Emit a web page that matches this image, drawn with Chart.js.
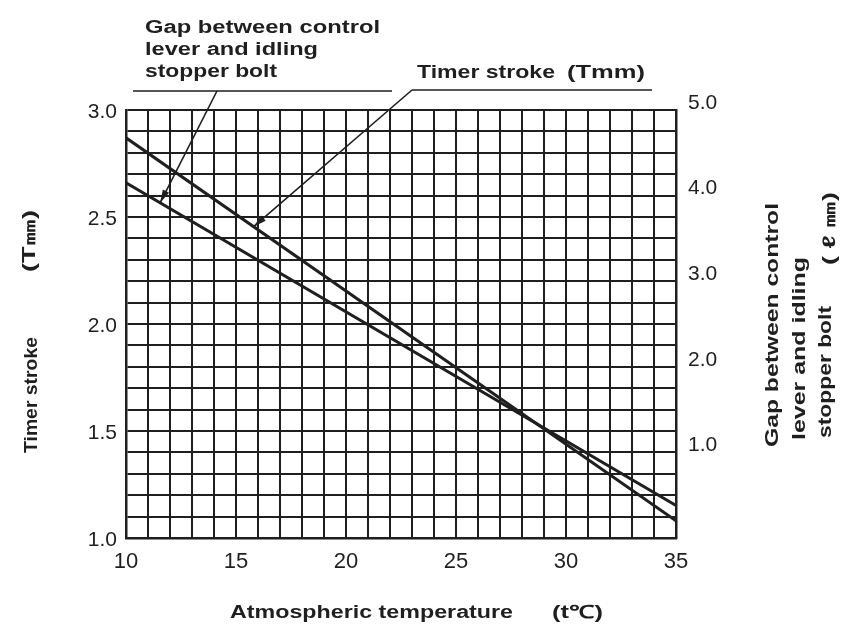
<!DOCTYPE html>
<html>
<head>
<meta charset="utf-8">
<title>Timer stroke vs atmospheric temperature</title>
<script src="https://cdn.jsdelivr.net/npm/chart.js@4.4.1/dist/chart.umd.min.js"></script>
<style>
  html, body { margin: 0; padding: 0; background: #fff; }
  #wrap { width: 845px; height: 631px; position: relative; }
</style>
</head>
<body>
<div id="wrap"><canvas id="chart"></canvas></div>
<script>
const TEMPS = [10, 35];                 // °C
const TIMER_STROKE = [2.87, 1.08];      // Tmm, left axis
const LEVER_GAP = [4.15, 0.38];         // ℓ mm, right axis
const X_LABELS = [10, 15, 20, 25, 30, 35];
const LEFT_LABELS = [1.0, 1.5, 2.0, 2.5, 3.0];
const RIGHT_LABELS = [1, 2, 3, 4, 5];
// temperatures where the leader arrows touch their lines
const TIMER_POINTER_T = 15.8;
const GAP_POINTER_T = 11.55;

const INK = '#1f1f1f';
const FONT = "'Liberation Sans', Arial, sans-serif";

Chart.defaults.font.family = FONT;
Chart.defaults.color = INK;

function lerpAt(xs, ys, x) {
  const t = (x - xs[0]) / (xs[1] - xs[0]);
  return ys[0] + t * (ys[1] - ys[0]);
}

function pick(list, v) {
  return list.find(t => Math.abs(t - v) < 1e-6);
}

// draw text from (x, y) stretched to a given width, optionally rotated
function stretchText(ctx, text, x, y, width, angle = 0) {
  ctx.save();
  ctx.translate(x, y);
  ctx.rotate(angle);
  ctx.scale(width / ctx.measureText(text).width, 1);
  ctx.textAlign = 'left';
  ctx.textBaseline = 'middle';
  ctx.fillText(text, 0, 0);
  ctx.restore();
}

function leader(ctx, from, to) {
  ctx.beginPath();
  ctx.moveTo(from.x, from.y);
  ctx.lineTo(to.x, to.y);
  ctx.stroke();
  const a = Math.atan2(to.y - from.y, to.x - from.x);
  const len = 13, half = 3.5;
  const bx = to.x - len * Math.cos(a), by = to.y - len * Math.sin(a);
  ctx.beginPath();
  ctx.moveTo(to.x, to.y);
  ctx.lineTo(bx + half * Math.sin(a), by - half * Math.cos(a));
  ctx.lineTo(bx - half * Math.sin(a), by + half * Math.cos(a));
  ctx.closePath();
  ctx.fill();
}

const labels = {
  id: 'labels',
  afterDraw(chart) {
    const { ctx } = chart;
    const sx = chart.scales.x, sy = chart.scales.y, sy2 = chart.scales.y2;
    ctx.save();
    ctx.strokeStyle = INK;
    ctx.fillStyle = INK;
    ctx.lineWidth = 1.6;

    // underlines for the two callouts
    ctx.beginPath();
    ctx.moveTo(133, 91); ctx.lineTo(392, 91);
    ctx.moveTo(412, 90); ctx.lineTo(652, 90);
    ctx.stroke();

    const timerTip = {
      x: sx.getPixelForValue(TIMER_POINTER_T),
      y: sy.getPixelForValue(lerpAt(TEMPS, TIMER_STROKE, TIMER_POINTER_T)),
    };
    const gapTip = {
      x: sx.getPixelForValue(GAP_POINTER_T),
      y: sy2.getPixelForValue(lerpAt(TEMPS, LEVER_GAP, GAP_POINTER_T)),
    };
    leader(ctx, { x: 217, y: 91 }, gapTip);
    leader(ctx, { x: 412, y: 90 }, timerTip);

    ctx.font = `bold 18px ${FONT}`;
    stretchText(ctx, 'Gap between control', 145, 28, 235);
    stretchText(ctx, 'lever and idling', 145, 50, 173);
    stretchText(ctx, 'stopper bolt', 145, 72, 132);
    stretchText(ctx, 'Timer stroke', 417, 73, 138);
    stretchText(ctx, '(Tmm)', 567, 73, 78);

    // x axis title
    stretchText(ctx, 'Atmospheric temperature', 230, 613, 283);
    stretchText(ctx, '(t℃)', 552, 613, 51);

    // left axis title, reading upwards
    const up = -Math.PI / 2;
    stretchText(ctx, 'Timer stroke', 32, 453, 116, up);
    stretchText(ctx, '(T㎜)', 30, 272, 62, up);

    // right axis title, three lines reading upwards
    stretchText(ctx, 'Gap between control', 773, 447, 244, up);
    stretchText(ctx, 'lever and idling', 800, 440, 183, up);
    stretchText(ctx, 'stopper bolt', 826, 438, 132, up);
    stretchText(ctx, '( ℓ ㎜)', 830, 265, 73, up);
    ctx.restore();
  }
};

const gridStyle = { color: INK, lineWidth: 2, drawTicks: false };
const borderStyle = { color: INK, width: 2.5 };

new Chart(document.getElementById('chart'), {
  type: 'line',
  data: {
    datasets: [
      {
        label: 'Timer stroke (Tmm)',
        yAxisID: 'y',
        data: TEMPS.map((t, i) => ({ x: t, y: TIMER_STROKE[i] })),
        borderColor: INK, borderWidth: 3, pointRadius: 0,
      },
      {
        label: 'Gap between control lever and idling stopper bolt',
        yAxisID: 'y2',
        data: TEMPS.map((t, i) => ({ x: t, y: LEVER_GAP[i] })),
        borderColor: INK, borderWidth: 3, pointRadius: 0,
      },
    ],
  },
  options: {
    responsive: true,
    maintainAspectRatio: false,
    animation: false,
    layout: { padding: { top: 110, left: 0, right: 0, bottom: 0 } },
    plugins: { legend: { display: false }, tooltip: { enabled: false } },
    scales: {
      x: {
        type: 'linear', min: 10, max: 35,
        ticks: {
          stepSize: 1, autoSkip: false, maxRotation: 0, padding: 11,
          font: { size: 22 }, color: INK,
          callback: v => (pick(X_LABELS, v) !== undefined ? String(v) : ''),
        },
        grid: gridStyle, border: borderStyle,
        afterFit: s => { s.height = 93; },
      },
      y: {
        position: 'left', min: 1, max: 3,
        ticks: {
          stepSize: 0.1, autoSkip: false, padding: 9, labelOffset: 2,
          font: { size: 21 }, color: INK,
          callback: v => { const t = pick(LEFT_LABELS, v); return t !== undefined ? t.toFixed(1) : ''; },
        },
        grid: gridStyle, border: borderStyle,
        afterFit: s => { s.width = 126; },
      },
      y2: {
        position: 'right', min: 0, max: 5,
        ticks: {
          stepSize: 0.25, autoSkip: false, padding: 12, labelOffset: -7,
          font: { size: 21 }, color: INK,
          callback: v => { const t = pick(RIGHT_LABELS, v); return t !== undefined ? t.toFixed(1) : ''; },
        },
        grid: { display: false, drawTicks: false }, border: borderStyle,
        afterFit: s => { s.width = 169; },
      },
    },
  },
  plugins: [labels],
});
</script>
</body>
</html>
